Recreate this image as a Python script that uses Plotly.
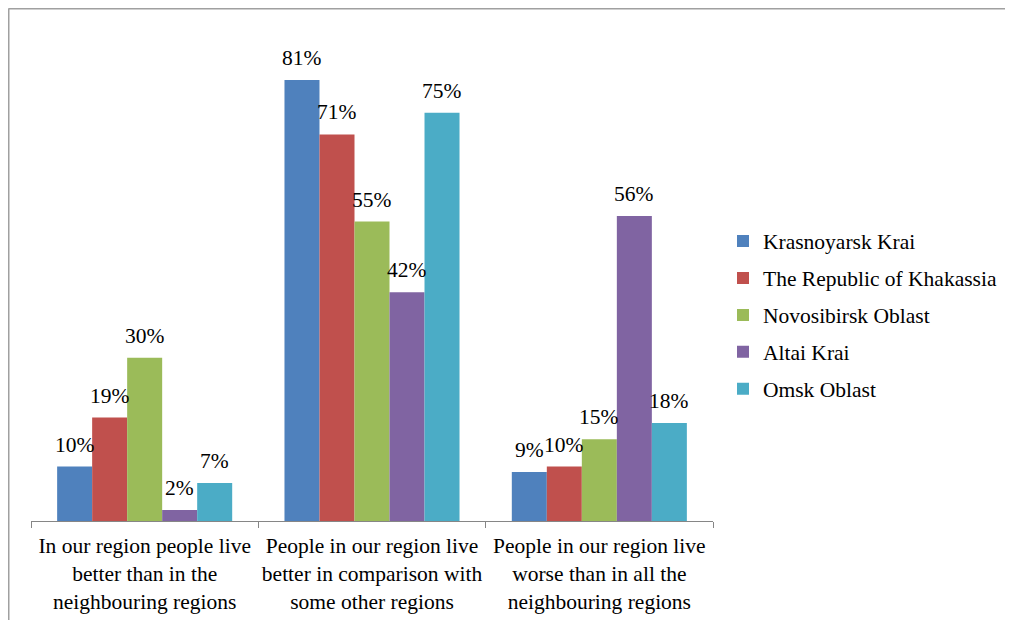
import plotly.graph_objects as go

categories = [
    "In our region people live<br>better than in the<br>neighbouring regions",
    "People in our region live<br>better in comparison with<br>some other regions",
    "People in our region live<br>worse than in all the<br>neighbouring regions",
]
regions = ["Krasnoyarsk Krai", "The Republic of Khakassia", "Novosibirsk Oblast",
           "Altai Krai", "Omsk Oblast"]
krasnoyarsk = [10, 81, 9]
khakassia = [19, 71, 10]
novosibirsk = [30, 55, 15]
altai = [2, 42, 56]
omsk = [7, 75, 18]
series = [krasnoyarsk, khakassia, novosibirsk, altai, omsk]
colors = ["#4F81BD", "#C0504D", "#9BBB59", "#8064A2", "#4BACC6"]

# page body has an 8px margin, so the figure is sized to fill the rest
W, H = 1005, 612
L, R, T, B = 23, 300, 23, 99
bargap = 0.23
font = "Liberation Serif"
fs = 21.5

fig = go.Figure()
for name, vals, c in zip(regions, series, colors):
    fig.add_trace(go.Bar(x=categories, y=vals, name=name, marker_color=c,
                         marker_line_width=0, legendgroup=name))

# value labels above bars
plot_w = W - L - R
plot_h = H - T - B
cat_w = plot_w / len(categories)
bar_w = cat_w * (1 - bargap) / len(series)
for i, vals in enumerate(series):
    for cat, v in zip(categories, vals):
        fig.add_annotation(x=cat, y=v, text=f"{v}%", showarrow=False,
                           xshift=(i - 2) * bar_w, yshift=22,
                           font=dict(size=fs, color="black", family=font))

# chart border (top and left edges)
px_to_x = lambda p: (p - L) / plot_w
py_to_y = lambda p: (H - B - p) / plot_h
fig.add_shape(type="line", xref="paper", yref="paper",
              x0=px_to_x(0.5), x1=px_to_x(1004), y0=py_to_y(0.5), y1=py_to_y(0.5),
              line=dict(color="#A0A0A0", width=2))
fig.add_shape(type="line", xref="paper", yref="paper",
              x0=px_to_x(0.5), x1=px_to_x(0.5), y0=py_to_y(0.5), y1=py_to_y(H + 5),
              line=dict(color="#A0A0A0", width=2))

fig.update_layout(
    width=W, height=H,
    margin=dict(l=L, r=R, t=T, b=B, autoexpand=False),
    barmode="group", bargap=bargap, bargroupgap=0,
    plot_bgcolor="white", paper_bgcolor="white",
    font=dict(family=font, size=fs, color="black"),
    showlegend=True,
    legend=dict(x=px_to_x(715), y=py_to_y(307), xanchor="left", yanchor="middle",
                traceorder="grouped", tracegroupgap=6,
                font=dict(size=fs, family=font)),
    xaxis=dict(showline=True, linecolor="#868686", linewidth=1,
               ticks="outside", tickson="boundaries", ticklen=6, tickcolor="#868686",
               tickangle=0, automargin=False,
               ticklabelstandoff=5, showgrid=False, tickfont=dict(size=fs)),
    yaxis=dict(visible=False, range=[0, 90], showgrid=False),
)

fig.write_html("out.html")
